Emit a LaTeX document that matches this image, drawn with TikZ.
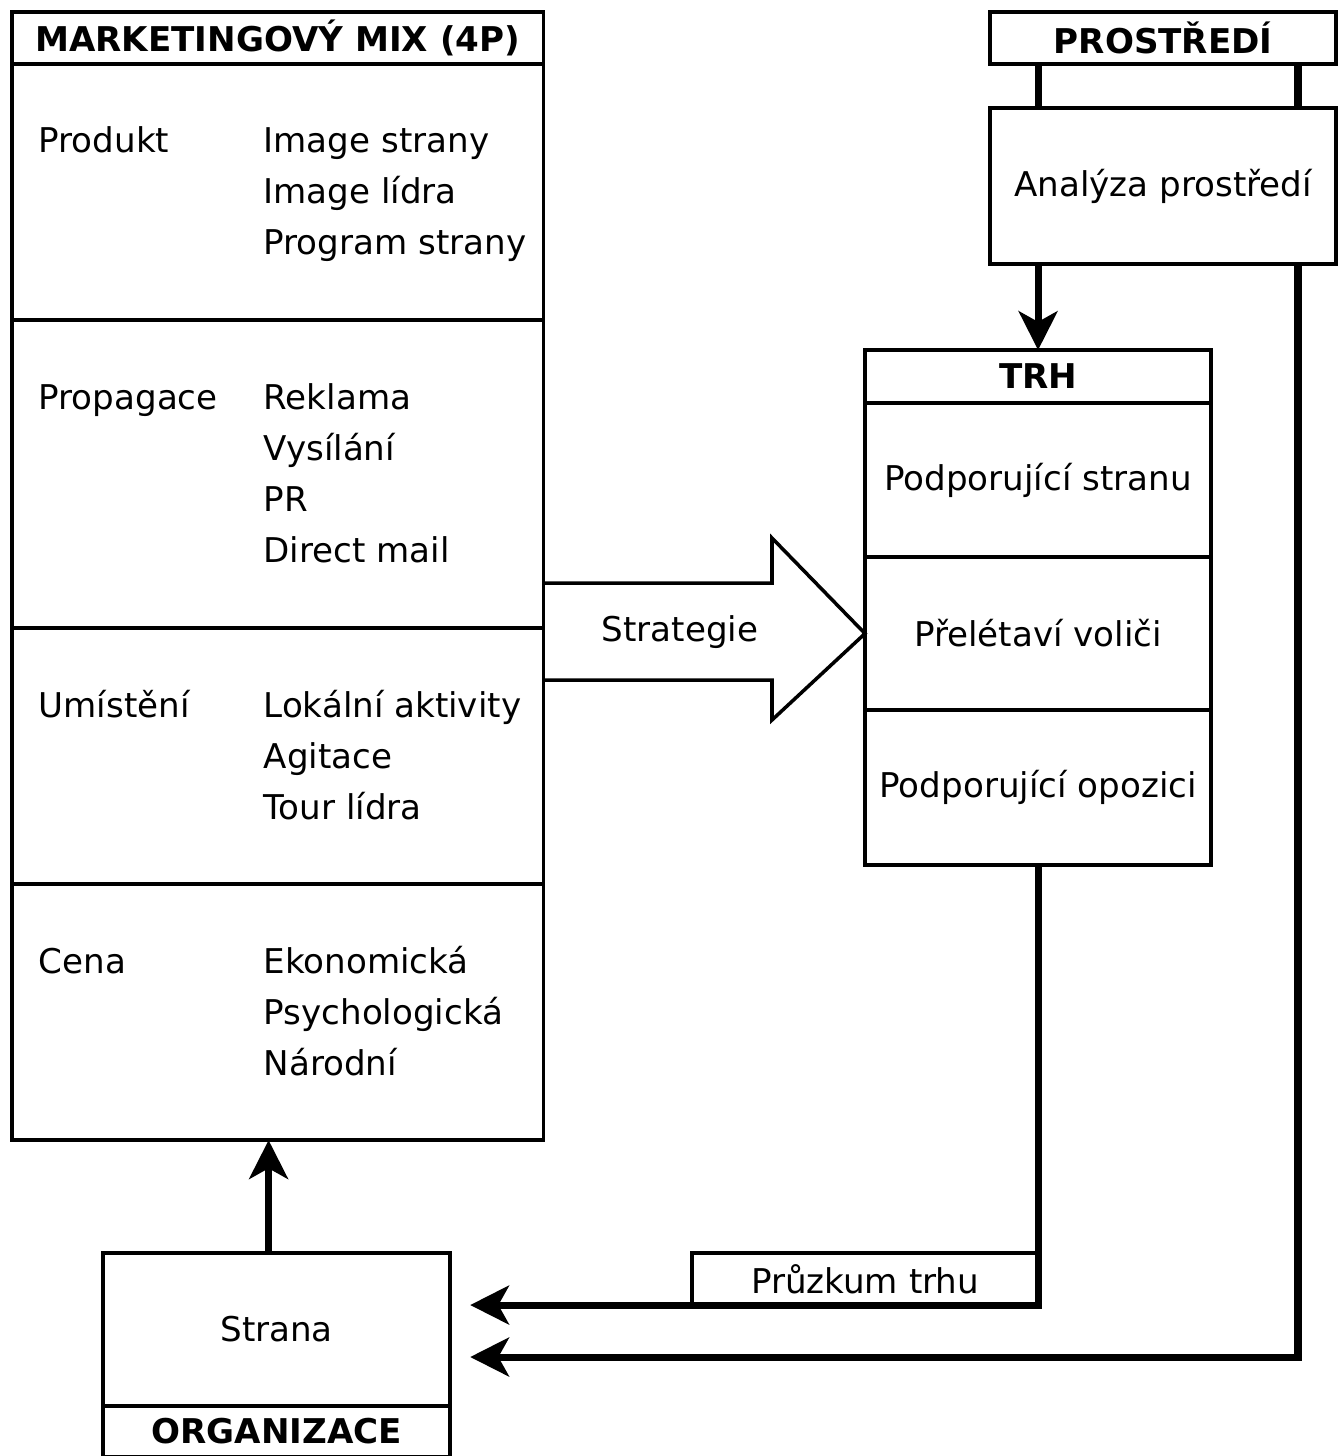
\documentclass[tikz,border=0pt]{standalone}
\usepackage{fontspec}
\setmainfont{DejaVu Sans}
\usepackage{tikz}
\usetikzlibrary{arrows.meta}

\tikzset{
        box/.style={draw, line width=1pt, anchor=north west, inner sep=0pt, outer sep=0pt},
        head/.style={font=\bfseries},
        item/.style={anchor=base west, inner sep=0pt},
        conn/.style={line width=2pt},
        tip/.style={-{Stealth[length=11pt,width=11pt,inset=3pt]}}
}

\begin{document}
\fontsize{9.7pt}{12pt}\selectfont
\begin{tikzpicture}[x=0.01cm,y=-0.01cm]
        \useasboundingbox (0,0) rectangle (1340,1456);
        % marketingovy mix
        \node[box,head,minimum width=5.31cm,minimum height=0.52cm] (mix0) at (12,12) {MARKETINGOVÝ MIX (4P)};
        \node[box,minimum width=5.31cm,minimum height=2.56cm] (mix1) at (12,64) {};
        \node[box,minimum width=5.31cm,minimum height=3.08cm] (mix2) at (12,320) {};
        \node[box,minimum width=5.31cm,minimum height=2.56cm] (mix3) at (12,628) {};
        \node[box,minimum width=5.31cm,minimum height=2.56cm] (mix4) at (12,884) {};
        % 4P a jejich polozky
        \node[item] (prod) at (38,152) {Produkt};
        \foreach \t [count=\i] in {Image strany,Image lídra,Program strany}
                \node[item] (prod\i) at (263,{152+51*(\i-1)}) {\t};
        \node[item] (prop) at (38,409) {Propagace};
        \foreach \t [count=\i] in {Reklama,Vysílání,PR,Direct mail}
                \node[item] (prop\i) at (263,{409+51*(\i-1)}) {\t};
        \node[item] (umis) at (38,717) {Umístění};
        \foreach \t [count=\i] in {Lokální aktivity,Agitace,Tour lídra}
                \node[item] (umis\i) at (263,{717+51*(\i-1)}) {\t};
        \node[item] (cena) at (38,973) {Cena};
        \foreach \t [count=\i] in {Ekonomická,Psychologická,Národní}
                \node[item] (cena\i) at (263,{973+51*(\i-1)}) {\t};
        % prostredi
        \node[box,head,minimum width=3.46cm,minimum height=0.52cm] (prost) at (990,12) {PROSTŘEDÍ};
        \node[box,minimum width=3.46cm,minimum height=1.56cm] (anal) at (990,108) {Analýza prostředí};
        % trh
        \node[box,head,minimum width=3.46cm,minimum height=0.53cm] (trh0) at (865,350) {TRH};
        \node[box,minimum width=3.46cm,minimum height=1.54cm] (trh1) at (865,403) {Podporující stranu};
        \node[box,minimum width=3.46cm,minimum height=1.53cm] (trh2) at (865,557) {Přelétaví voliči};
        \node[box,minimum width=3.46cm,minimum height=1.55cm] (trh3) at (865,710) {Podporující opozici};
        % organizace
        \node[box,minimum width=3.47cm,minimum height=1.53cm] (strana) at (103,1253) {Strana};
        \node[box,head,minimum width=3.47cm,minimum height=0.51cm] (org) at (103,1406) {ORGANIZACE};
        \node[box,minimum width=3.46cm,minimum height=0.52cm] (pruz) at (692,1253) {Průzkum trhu};
        % strategie
        \draw[line width=1pt] (543,583) -- (772,583) -- (772,538) -- (trh2.west)
                -- (772,720) -- (772,680) -- (543,680);
        \node (strat) at (680,632) {Strategie};
        % spojnice
        \coordinate (rb) at (1298,1357);
        \draw[conn] (trh0.north |- prost.south) -- (trh0.north |- anal.north);
        \draw[conn] (rb |- prost.south) -- (rb |- anal.north);
        \draw[conn,tip] (trh0.north |- anal.south) -- (trh0.north);
        \draw[conn,tip,shorten >=0.2cm] (rb |- anal.south) -- (rb) -- (strana.east |- rb);
        \draw[conn,tip,shorten >=0.2cm] (trh3.south) -- (trh3.south |- pruz.south) -- (strana.east |- pruz.south);
        \draw[conn,tip] ([xshift=-0.08cm]strana.north) -- ([xshift=-0.08cm]strana.north |- mix4.south);
\end{tikzpicture}
\end{document}
